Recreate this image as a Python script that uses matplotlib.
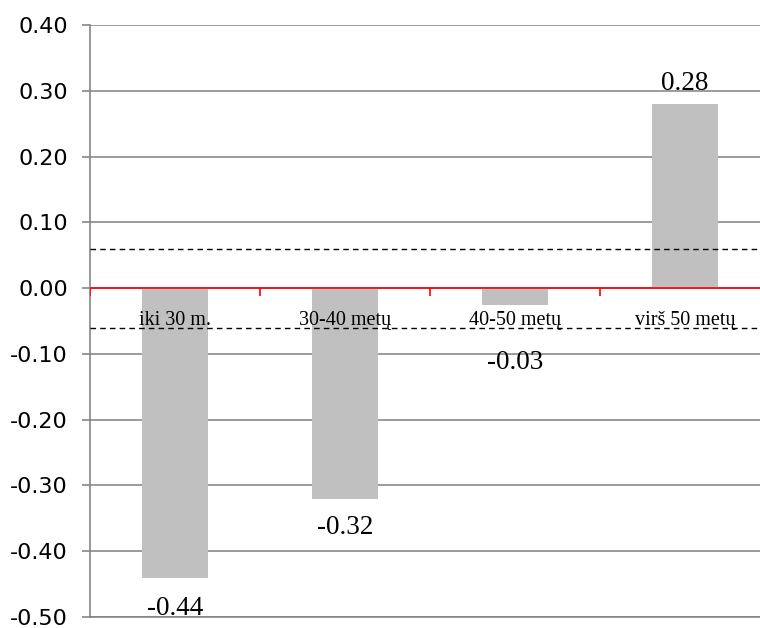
import numpy as np
import matplotlib.pyplot as plt

# Data
categories = ['iki 30 m.', '30-40 metų', '40-50 metų', 'virš 50 metų']
values = [-0.44, -0.32, -0.025, 0.28]
labels = ['-0.44', '-0.32', '-0.03', '0.28']
threshold = 0.06
yticks = [-0.5, -0.4, -0.3, -0.2, -0.1, 0.0, 0.1, 0.2, 0.3, 0.4]

# label offsets (points) from bar ends
label_offsets = [-22, -21, -42, 15]

fig = plt.figure(figsize=(7.6, 6.28), dpi=100)
ax = fig.add_axes([90 / 760, 11 / 628, 680 / 760, 592 / 628])

x = np.arange(len(categories))
ax.bar(x, values, width=0.39, color='#c0c0c0', zorder=2)

ax.set_xlim(-0.5, len(categories) - 0.5)
ax.set_ylim(-0.5, 0.4)
ax.set_yticks(yticks)
ax.set_yticklabels(['%.2f' % v for v in yticks], fontsize=16, family='DejaVu Sans')
ax.tick_params(axis='y', direction='out', length=6, width=1.2, color='#868686', pad=10)
ax.set_xticks([])
ax.yaxis.grid(True, color='#8a8a8a', linewidth=1.2, zorder=0)
ax.set_axisbelow(True)

for side in ['top', 'right']:
    ax.spines[side].set_visible(False)
ax.spines['left'].set_color('#868686')
ax.spines['left'].set_linewidth(1.2)
ax.spines['bottom'].set_color('#868686')
ax.spines['bottom'].set_linewidth(1.2)

# zero line with category tick marks
ax.axhline(0, color='red', linewidth=1.2, zorder=3)
ax.vlines(np.arange(len(categories)) - 0.5, -0.012, 0, color='red', linewidth=1.2, zorder=3)

# threshold lines
ax.axhline(threshold, color='black', linestyle='--', linewidth=1, dashes=(4, 3), zorder=3)
ax.axhline(-threshold, color='black', linestyle='--', linewidth=1, dashes=(4, 3), zorder=3)

# category labels on the zero line
for xi, cat in zip(x, categories):
    ax.annotate(cat, (xi, 0), xytext=(0, -23), textcoords='offset points',
                ha='center', va='center', fontsize=14.5, family='Liberation Serif', zorder=4)

# value labels
for xi, v, lab, off in zip(x, values, labels, label_offsets):
    ax.annotate(lab, (xi, v), xytext=(0, off), textcoords='offset points',
                ha='center', va='center', fontsize=19.5, family='Liberation Serif', zorder=4)

fig.savefig('out.png')
